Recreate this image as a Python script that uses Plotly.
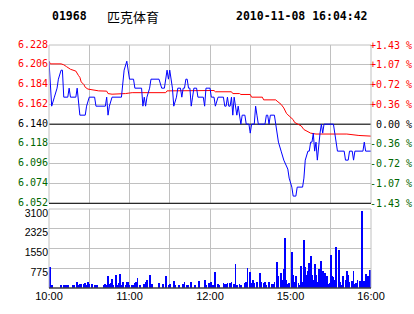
import plotly.graph_objects as go

# ---------------- data ----------------
stock_code = "01968"
stock_name = "匹克体育"
timestamp = "2010-11-08 16:04:42"
prev_close = 6.140

price_ticks = [6.052, 6.074, 6.096, 6.118, 6.140, 6.162, 6.184, 6.206, 6.228]
vol_ticks = [775, 1550, 2325, 3100]
grid_minutes = [0, 30, 60, 90, 120, 150, 180, 210, 240]
time_labels = ["10:00", "", "11:00", "", "12:00", "", "15:00", "", "16:00"]

# minutes since 10:00 (trading minutes, lunch break removed)
price_min = [0, 1, 2, 4, 6, 7, 9, 10, 11, 14, 15, 16, 20, 21, 22, 23, 27, 28, 30, 34, 35, 42, 43, 44,
             45, 47, 54, 55, 56, 58, 59, 60, 63, 64, 69, 70, 71, 72, 73, 75, 76, 82, 84, 86, 88, 89,
             90, 91, 92, 93, 95, 96, 98, 99, 100, 101, 102, 103, 104, 105, 106, 107, 108, 110, 111,
             115, 116, 117, 120, 121, 123, 124, 126, 130, 131, 132, 133, 134, 135, 136, 137, 138,
             139, 140, 141, 142, 143, 144, 146, 147, 149, 150, 151, 153, 154, 155, 156, 161, 162,
             163, 164, 165, 168, 169, 170, 171, 173, 175, 178, 179, 181, 182, 184, 185, 189, 190,
             191, 193, 194, 195, 196, 197, 198, 199, 200, 201, 202, 203, 204, 205, 212, 213, 214,
             215, 220, 221, 223, 224, 226, 227, 228, 234, 235, 236, 240]
price_val = [6.21, 6.18, 6.16, 6.17, 6.18, 6.19, 6.20, 6.20, 6.17, 6.17, 6.18, 6.17, 6.17, 6.18, 6.16,
             6.15, 6.15, 6.16, 6.17, 6.17, 6.16, 6.16, 6.17, 6.15, 6.16, 6.17, 6.17, 6.19, 6.20, 6.21,
             6.20, 6.19, 6.19, 6.18, 6.18, 6.16, 6.17, 6.16, 6.17, 6.18, 6.19, 6.19, 6.18, 6.18, 6.20,
             6.19, 6.20, 6.19, 6.18, 6.16, 6.17, 6.18, 6.18, 6.17, 6.18, 6.18, 6.19, 6.19, 6.18, 6.18,
             6.16, 6.17, 6.18, 6.18, 6.17, 6.17, 6.16, 6.18, 6.18, 6.17, 6.17, 6.16, 6.17, 6.17, 6.16,
             6.16, 6.17, 6.16, 6.16, 6.17, 6.15, 6.17, 6.16, 6.15, 6.16, 6.15, 6.14, 6.15, 6.15, 6.14,
             6.14, 6.13, 6.14, 6.14, 6.16, 6.15, 6.14, 6.14, 6.15, 6.15, 6.14, 6.15, 6.15, 6.14, 6.13,
             6.12, 6.11, 6.10, 6.09, 6.08, 6.07, 6.06, 6.06, 6.07, 6.07, 6.08, 6.10, 6.11, 6.11, 6.12,
             6.12, 6.13, 6.11, 6.12, 6.10, 6.12, 6.13, 6.14, 6.13, 6.14, 6.14, 6.13, 6.12, 6.11, 6.11,
             6.10, 6.10, 6.11, 6.11, 6.10, 6.11, 6.11, 6.12, 6.11, 6.11]

avg_min = [0, 1, 9, 11, 13, 16, 20, 21, 22, 23, 24, 26, 27, 29, 32, 37, 43, 44, 47, 54, 57, 62, 72,
           87, 88, 115, 123, 124, 136, 137, 142, 143, 150, 151, 159, 160, 169, 170, 173, 175, 177,
           179, 182, 183, 185, 188, 190, 193, 195, 199, 209, 222, 231, 240]
avg_val = [6.210, 6.207, 6.207, 6.206, 6.204, 6.201, 6.199, 6.196, 6.194, 6.192, 6.187, 6.184, 6.181,
           6.179, 6.178, 6.177, 6.1767, 6.174, 6.1733, 6.1733, 6.174, 6.175, 6.175, 6.175, 6.177,
           6.177, 6.1774, 6.176, 6.176, 6.174, 6.174, 6.173, 6.173, 6.170, 6.170, 6.167, 6.167,
           6.1656, 6.162, 6.158, 6.152, 6.149, 6.145, 6.142, 6.1407, 6.138, 6.134, 6.1315, 6.130,
           6.129, 6.129, 6.129, 6.1274, 6.1267]

vol_min = [1, 2, 9, 11, 12, 13, 14, 18, 19, 21, 22, 23, 24, 26, 27, 28, 29, 30, 32, 34, 36, 41, 42, 43,
           44, 45, 46, 47, 48, 50, 51, 52, 53, 54, 55, 57, 58, 59, 60, 62, 63, 64, 65, 66, 68, 71,
           72, 73, 75, 76, 77, 82, 85, 87, 89, 90, 93, 94, 97, 100, 101, 103, 104, 106, 109, 112,
           116, 117, 119, 121, 122, 124, 126, 127, 130, 131, 132, 133, 135, 136, 138, 139, 140,
           142, 143, 146, 147, 148, 150, 151, 152, 153, 155, 157, 158, 160, 161, 162, 164, 166,
           167, 168, 170, 171, 173, 174, 175, 176, 177, 178, 179, 181, 182, 183, 184, 186, 187,
           188, 189, 190, 191, 192, 193, 194, 195, 196, 197, 198, 199, 200, 201, 202, 203, 204,
           205, 206, 207, 208, 209, 210, 211, 212, 213, 214, 216, 217, 218, 219, 221, 222, 223,
           224, 226, 227, 228, 229, 230, 232, 233, 234, 235, 236, 237, 238, 239, 240]
vol_val = [808, 130, 100, 100, 100, 130, 100, 100, 130, 235, 130, 156, 156, 156, 195, 130, 235, 156,
           156, 130, 130, 130, 156, 130, 456, 156, 195, 365, 130, 521, 130, 195, 560, 130, 235, 130,
           235, 235, 130, 100, 130, 195, 235, 390, 104, 156, 235, 326, 495, 130, 156, 195, 156, 456,
           130, 156, 260, 104, 104, 156, 235, 104, 130, 235, 104, 287, 326, 130, 195, 235, 130, 625,
           156, 130, 195, 156, 156, 195, 195, 235, 156, 951, 130, 156, 130, 195, 235, 782, 625, 195,
           326, 195, 235, 586, 235, 195, 235, 130, 235, 156, 156, 235, 1016, 456, 586, 326, 756,
           1980, 326, 156, 195, 1407, 521, 235, 456, 195, 130, 847, 235, 1889, 808, 521, 651, 977,
           1238, 521, 326, 938, 521, 235, 756, 456, 1042, 651, 195, 586, 456, 156, 195, 1303, 456,
           417, 326, 1590, 1498, 235, 130, 456, 326, 677, 521, 235, 260, 651, 156, 195, 326, 287,
           3023, 195, 260, 547, 326, 456, 717]

# ---------------- styles ----------------
RED = "#ff0000"
GREEN = "#006600"
BLACK = "#000000"
BLUE = "#0000ff"
GRID = "#c0c0c0"
MONO = "DejaVu Sans Mono"
SANS = "Liberation Sans"


def tick_color(v):
    if abs(v - prev_close) < 1e-9:
        return BLACK
    return RED if v > prev_close else GREEN


left_text = ['<span style="color:%s">%.3f</span>' % (tick_color(v), v) for v in price_ticks]
right_text = []
for v in price_ticks:
    pct = (v - prev_close) / prev_close * 100
    if abs(pct) < 1e-9:
        s = "\u00a00.00 %"
    elif pct > 0:
        s = "+%.2f %%" % pct
    else:
        s = "-%.2f %%" % abs(pct)
    right_text.append('<span style="color:%s">%s</span>' % (tick_color(v), s))

fig = go.Figure()

# previous-close reference line (drawn first, under the price)
fig.add_trace(go.Scatter(x=[grid_minutes[0], grid_minutes[-1]], y=[prev_close, prev_close],
                         mode="lines", line=dict(color=BLACK, width=1), xaxis="x", yaxis="y",
                         hoverinfo="skip", showlegend=False))
fig.add_trace(go.Scatter(x=avg_min, y=avg_val, mode="lines", line=dict(color=RED, width=1),
                         xaxis="x", yaxis="y", showlegend=False))
fig.add_trace(go.Scatter(x=price_min, y=price_val, mode="lines", line=dict(color=BLUE, width=1),
                         xaxis="x", yaxis="y", showlegend=False))
fig.add_trace(go.Bar(x=vol_min, y=vol_val, width=0.6, marker=dict(color=BLUE, line=dict(width=0)),
                     xaxis="x2", yaxis="y2", showlegend=False))
# invisible trace to activate right axis
fig.add_trace(go.Scatter(x=[grid_minutes[0]], y=[prev_close], mode="markers", opacity=0,
                         xaxis="x", yaxis="y3", hoverinfo="skip", showlegend=False))

price_dom = [(288 - 203.3) / 243, 1]
vol_dom = [0, (288 - 209) / 243]

fig.update_layout(
    width=414, height=314,
    margin=dict(l=49, r=43, t=45, b=26, autoexpand=False),
    paper_bgcolor="white", plot_bgcolor="white",
    showlegend=False,
    bargap=0,
    xaxis=dict(domain=[0, 1], range=[0, 240], anchor="y", tickvals=grid_minutes,
               showticklabels=False, showgrid=True, gridcolor=GRID, gridwidth=1,
               zeroline=False, showline=False, ticks="", automargin=False),
    xaxis2=dict(domain=[0, 1], range=[0, 240], anchor="y2", tickvals=grid_minutes,
                ticktext=time_labels, showgrid=True, gridcolor=GRID, gridwidth=1,
                zeroline=False, showline=False, ticks="", automargin=False,
                tickfont=dict(family=SANS, size=11, color=BLACK)),
    yaxis=dict(domain=price_dom, range=[price_ticks[0], price_ticks[-1]], anchor="x",
               tickvals=price_ticks, ticktext=left_text, showgrid=True, gridcolor=GRID,
               gridwidth=1, zeroline=False, showline=False, ticks="", automargin=False,
               ticklabelshift=-1, tickfont=dict(family=MONO, size=10)),
    yaxis3=dict(overlaying="y", side="right", anchor="x", range=[price_ticks[0], price_ticks[-1]],
                tickvals=price_ticks, ticktext=right_text, showgrid=False, zeroline=False,
                showline=False, ticks="", automargin=False, ticklabelstandoff=-2,
                tickfont=dict(family=MONO, size=10)),
    yaxis2=dict(domain=vol_dom, range=[0, vol_ticks[-1]], anchor="x2", tickvals=vol_ticks,
                showgrid=True, gridcolor=GRID, gridwidth=1, zeroline=False, showline=False,
                ticks="", automargin=False, ticklabelshift=4,
                tickfont=dict(family=SANS, size=10.5, color=BLACK)),
    shapes=[
        dict(type="rect", xref="x domain", yref="y domain", x0=0, x1=1, y0=0, y1=1,
             line=dict(color=GRID, width=1), layer="above"),
        dict(type="line", xref="x domain", yref="y domain", x0=0, x1=1, y0=0, y1=0,
             line=dict(color=BLACK, width=1), layer="above"),
        dict(type="rect", xref="x2 domain", yref="y2 domain", x0=0, x1=1, y0=0, y1=1,
             line=dict(color=GRID, width=1), layer="above"),
        dict(type="line", xref="x2 domain", yref="y2 domain", x0=0, x1=1, y0=0, y1=0,
             line=dict(color=BLACK, width=1), layer="above"),
    ],
    annotations=[
        dict(text="<b>%s</b>" % stock_code, xref="paper", yref="paper", x=0.003, y=1.119,
             xanchor="left", yanchor="middle", showarrow=False,
             font=dict(family=MONO, size=11.5, color=BLACK)),
        dict(text=stock_name, xref="paper", yref="paper", x=0.174, y=1.119,
             xanchor="left", yanchor="middle", showarrow=False,
             font=dict(family="Noto Sans CJK SC", size=13, color=BLACK)),
        dict(text="<b>%s</b>" % timestamp, xref="paper", yref="paper", x=0.997, y=1.119,
             xanchor="right", yanchor="middle", showarrow=False,
             font=dict(family=MONO, size=11.5, color=BLACK)),
    ],
)

fig.write_html("out.html")
